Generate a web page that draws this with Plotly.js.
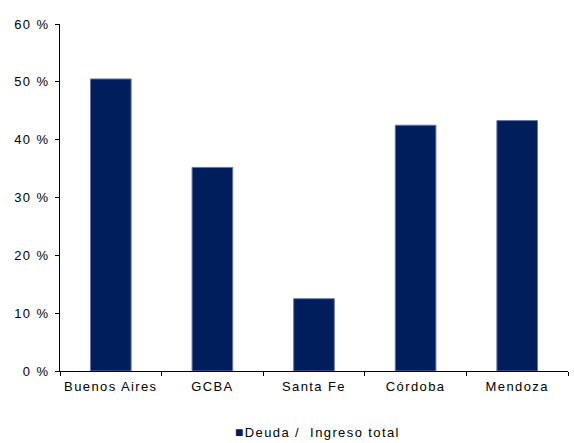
<!DOCTYPE html>
<html>
<head>
<meta charset="utf-8">
<script src="https://cdn.plot.ly/plotly-3.0.1.min.js"></script>
<style>
  html, body { margin: 0; padding: 0; background: #fff; }
  #chart { width: 574px; height: 443px; }
  /* wide, spaced-out lettering for every label */
  #chart text { letter-spacing: 1.4px; }
</style>
</head>
<body>
<div id="chart"></div>
<script>
// Debt as a share of total revenue, by province
const provincias = ['Buenos Aires', 'GCBA', 'Santa Fe', 'Córdoba', 'Mendoza'];
const deudaIngreso = [50.5, 35.2, 12.5, 42.5, 43.3];
const tickValores = [0, 10, 20, 30, 40, 50, 60];
const tickTextos = ['0 %', '10 %', '20 %', '30 %', '40 %', '50 %', '60 %'];
const serieNombre = 'Deuda /  Ingreso total';
const colorBarra = '#001d5c';

const trace = {
  type: 'bar',
  x: provincias,
  y: deudaIngreso,
  name: serieNombre,
  marker: { color: colorBarra, line: { color: '#6677a8', width: 1 } },
  hoverinfo: 'none'
};

const layout = {
  width: 574,
  height: 443,
  margin: { l: 60, r: 6, t: 24, b: 72, autoexpand: false },
  paper_bgcolor: '#fff',
  plot_bgcolor: '#fff',
  font: { family: 'Liberation Sans, Arial, sans-serif', size: 13, color: '#000' },
  bargap: 0.6,
  showlegend: false,
  // compact legend: small square swatch right beside its label
  annotations: [{
    xref: 'paper', yref: 'paper',
    x: 0.506, y: -0.176,
    xanchor: 'center', yanchor: 'middle',
    showarrow: false,
    text: '<span style="color:' + colorBarra + ';font-size:14px">■</span>' + serieNombre,
    font: { size: 13, color: '#000' }
  }],
  xaxis: {
    showline: true,
    linecolor: '#000',
    linewidth: 1,
    ticks: 'outside',
    tickson: 'boundaries',
    ticklen: 4,
    tickcolor: '#000',
    ticklabelstandoff: 3,
    showgrid: false,
    zeroline: false,
    tickfont: { size: 13 }
  },
  yaxis: {
    range: [0, 60],
    tickvals: tickValores,
    ticktext: tickTextos,
    showline: true,
    linecolor: '#000',
    linewidth: 1,
    ticks: 'outside',
    ticklen: 4,
    tickcolor: '#000',
    ticklabelstandoff: 3,
    showgrid: false,
    zeroline: false,
    tickfont: { size: 13 }
  }
};

Plotly.newPlot('chart', [trace], layout, { displayModeBar: false, staticPlot: true });
</script>
</body>
</html>
